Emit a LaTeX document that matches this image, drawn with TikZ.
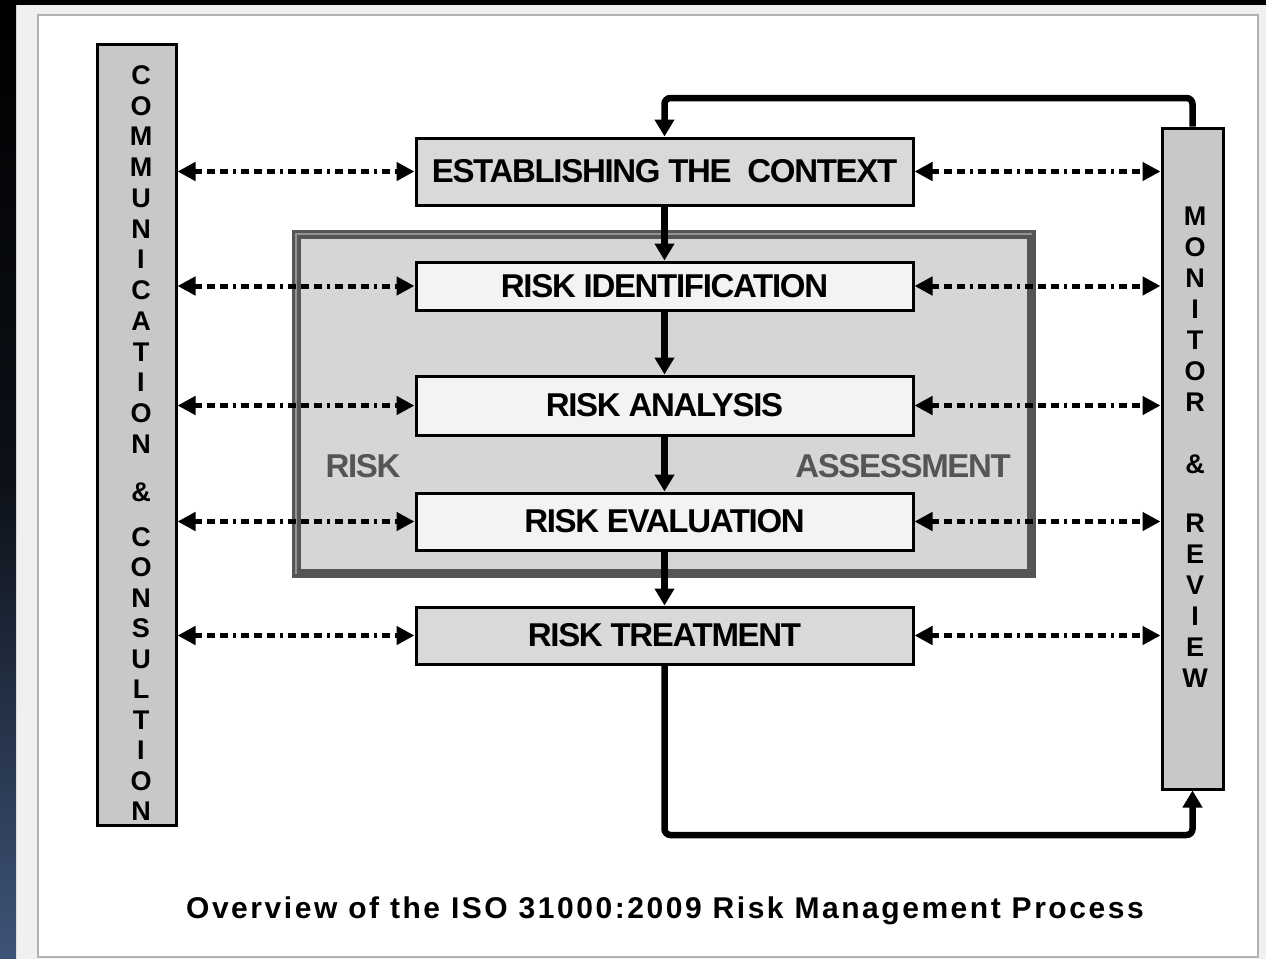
\documentclass[tikz,border=0pt]{standalone}
\usepackage{fontspec}
\setmainfont{Liberation Sans}
\newfontfamily\boxfont{Liberation Sans}[LetterSpace=-4]
\newfontfamily\capfont{Liberation Sans}[LetterSpace=8.5]
\usetikzlibrary{arrows.meta, positioning, calc}

\definecolor{panelgrey}{HTML}{F0F0F0}
\definecolor{sidegrey}{HTML}{C8C8C8}
\definecolor{stepgrey}{HTML}{D9D9D9}
\definecolor{palegrey}{HTML}{F3F3F3}
\definecolor{framegrey}{HTML}{D6D6D6}
\definecolor{framedark}{HTML}{555555}
\definecolor{slateblue}{HTML}{3E5478}

\begin{document}
\begin{tikzpicture}[x=0.5pt, y=-0.5pt,
        stepbox/.style={rectangle, draw=black, line width=1.5pt, minimum width=248.5pt, inner sep=0pt, align=center, font=\boxfont\bfseries\fontsize{16.5pt}{18pt}\selectfont},
        sidebox/.style={rectangle, draw=black, line width=1.5pt, fill=sidegrey, inner sep=0pt},
        sideletter/.style={inner sep=0pt, font=\bfseries\fontsize{13.5pt}{15pt}\selectfont},
        flow/.style={-{Triangle[width=9.5pt,length=8.5pt]}, line width=3.25pt},
        talk/.style={{Triangle[width=9pt,length=9pt]}-{Triangle[width=9pt,length=9pt]}, line width=2.5pt, dash pattern=on 4pt off 2.5pt on 4pt off 2.5pt on 4pt off 2.5pt on 1.5pt off 2.5pt}
    ]
        \useasboundingbox (0,0) rectangle (1266,959);

        % Backdrop and sheet
        \fill[panelgrey] (0,0) rectangle (1266,959);
        \fill[black] (0,0) rectangle (1266,5);
        \shade[top color=black, bottom color=slateblue, middle color=black!80!slateblue] (0,0) rectangle (16,959);
        \draw[gray!60, fill=white, line width=1pt] (38,15) rectangle (1258,957);

        % Side bars
        \node[sidebox, minimum width=39.5pt, minimum height=390.5pt] (comm) at (136.5,434.5) {};
        \node[sidebox, minimum width=30.5pt, minimum height=330.5pt] (review) at (1192.5,458.5) {};

        % Assessment frame
        \node[rectangle, draw=framedark, fill=framegrey, line width=4.5pt, minimum width=367.5pt, minimum height=169.5pt] (assess) at (664,404) {};
        \draw[gray!85, line width=1pt] ($(assess.south west)+(4,-4)$) -- ($(assess.north west)+(4,4)$) -- ($(assess.north east)+(-4,4)$);
        \node[font=\boxfont\bfseries\fontsize{16.5pt}{18pt}\selectfont, text=framedark] (risklbl) at (363,466) {RISK};
        \node[font=\boxfont\bfseries\fontsize{16.5pt}{18pt}\selectfont, text=framedark] (assesslbl) at (903,466) {ASSESSMENT};

        % Process steps
        \node[stepbox, fill=stepgrey, minimum height=33.5pt] (est) at (664.5,171.5) {ESTABLISHING THE\ \ CONTEXT};
        \node[stepbox, fill=palegrey, minimum height=24pt] (ident) at (664.5,286) {RISK IDENTIFICATION};
        \node[stepbox, fill=palegrey, minimum height=29.5pt] (analysis) at (664.5,405.5) {RISK ANALYSIS};
        \node[stepbox, fill=palegrey, minimum height=28.5pt] (evaluation) at (664.5,521.5) {RISK EVALUATION};
        \node[stepbox, fill=stepgrey, minimum height=28.5pt] (treatment) at (664.5,635.5) {RISK TREATMENT};

        % Main flow
        \draw[flow] (est.south) -- (ident.north);
        \draw[flow] (ident.south) -- (analysis.north);
        \draw[flow] (analysis.south) -- (evaluation.north);
        \draw[flow] (evaluation.south) -- (treatment.north);

        % Feedback loops
        \coordinate (topline) at (0,98);
        \coordinate (bottomline) at (0,835);
        \draw[flow, rounded corners=3pt] (review.north) -- (review.north |- topline) -- (est.north |- topline) -- (est.north);
        \draw[flow, rounded corners=3pt] (treatment.south) -- (treatment.south |- bottomline) -- (review.south |- bottomline) -- (review.south);

        % Communication on both sides
        \foreach \stage in {est, ident, analysis, evaluation, treatment} {
            \draw[talk] (comm.east |- \stage.west) -- (\stage.west);
            \draw[talk] (\stage.east) -- (review.west |- \stage.east);
        }

        % Upright lettering
        \foreach \ch [count=\i from 0] in {C,O,M,M,U,N,I,C,A,T,I,O,N}
            \node[sideletter] (comm-a\i) at (141,75+30.75*\i) {\ch};
        \node[sideletter] (comm-and) at (141,492) {\&};
        \foreach \ch [count=\i from 0] in {C,O,N,S,U,L,T,I,O,N}
            \node[sideletter] (comm-b\i) at (141,537+30.5*\i) {\ch};

        \foreach \ch [count=\i from 0] in {M,O,N,I,T,O,R}
            \node[sideletter] (review-a\i) at (1195,216+31*\i) {\ch};
        \node[sideletter] (review-and) at (1195,464) {\&};
        \foreach \ch [count=\i from 0] in {R,E,V,I,E,W}
            \node[sideletter] (review-b\i) at (1195,523+31*\i) {\ch};

        % Caption
        \node[font=\capfont\bfseries\fontsize{15pt}{17pt}\selectfont] (caption) at (665,911) {Overview of the ISO 31000:2009 Risk Management Process};
    \end{tikzpicture}
\end{document}
